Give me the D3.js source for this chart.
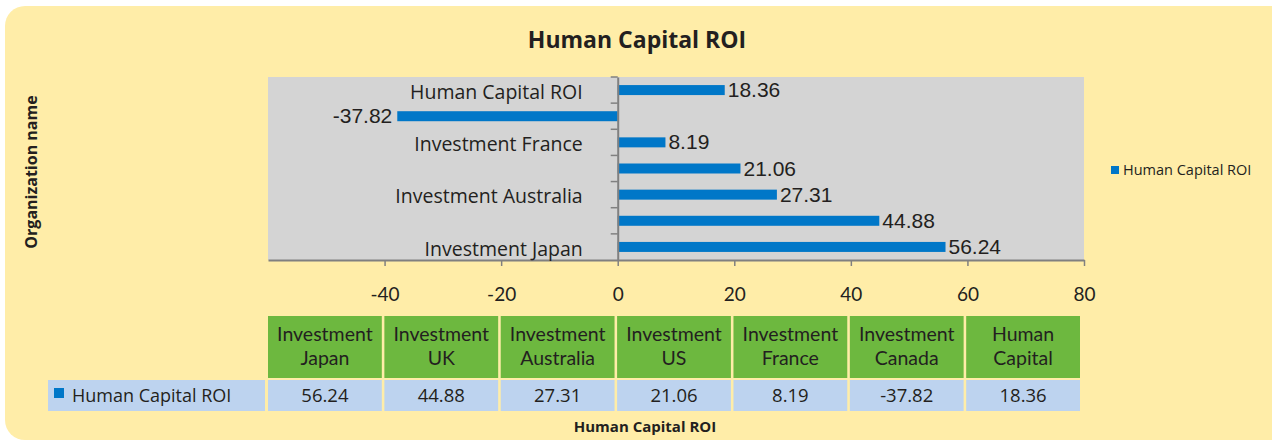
<!DOCTYPE html>
<html>
<head>
<meta charset="utf-8">
<script src="https://cdn.jsdelivr.net/npm/d3@7"></script>
<style>
  body { margin: 0; background: #fff; }
  svg text { font-family: "Open Sans", Lato, sans-serif; fill: #231f20; }
</style>
</head>
<body>
<svg id="chart" width="1272" height="443"></svg>
<script>
'use strict';

// categories, bottom of the plot to top (and table order left to right)
const categories = ['Investment Japan', 'Investment UK', 'Investment Australia', 'Investment US',
  'Investment France', 'Investment Canada', 'Human Capital ROI'];
const tableHeads = [['Investment', 'Japan'], ['Investment', 'UK'], ['Investment', 'Australia'],
  ['Investment', 'US'], ['Investment', 'France'], ['Investment', 'Canada'], ['Human', 'Capital']];
const roiValues = [56.24, 44.88, 27.31, 21.06, 8.19, -37.82, 18.36];
const shownLabels = ['Investment Japan', 'Investment Australia', 'Investment France', 'Human Capital ROI'];
const xTicks = [-40, -20, 0, 20, 40, 60, 80];
const seriesName = 'Human Capital ROI';

const svg = d3.select('#chart');

// background panel
svg.append('rect')
  .attr('x', 5).attr('y', 6).attr('width', 1290).attr('height', 434)
  .attr('rx', 20).attr('fill', '#ffeda8');

const plot = { left: 268, right: 1084, top: 77, bottom: 260 };

const x = d3.scaleLinear().domain([-60, 80]).range([plot.left, plot.right]);
const y = d3.scaleBand().domain(categories.slice().reverse()).range([plot.top, plot.bottom]);

svg.append('rect')
  .attr('x', plot.left).attr('y', plot.top)
  .attr('width', plot.right - plot.left).attr('height', plot.bottom - plot.top)
  .attr('fill', '#d4d4d4');

// title
svg.append('text')
  .attr('x', 637).attr('y', 48)
  .attr('text-anchor', 'middle')
  .style('font-weight', 'bold').style('font-size', '23px')
  .text('Human Capital ROI');

// y axis title
svg.append('text')
  .attr('transform', 'translate(37,172) rotate(-90)')
  .attr('text-anchor', 'middle')
  .style('font-weight', 'bold').style('font-size', '16px')
  .text('Organization name');

// bars
const barH = 10;
svg.append('g').selectAll('rect')
  .data(categories)
  .join('rect')
  .attr('x', (d, i) => x(Math.min(0, roiValues[i])))
  .attr('y', d => y(d) + y.bandwidth() / 2 - barH / 2)
  .attr('width', (d, i) => Math.abs(x(roiValues[i]) - x(0)))
  .attr('height', barH)
  .attr('fill', '#0077c8');

// value labels
svg.append('g').selectAll('text')
  .data(categories)
  .join('text')
  .attr('x', (d, i) => roiValues[i] >= 0 ? x(roiValues[i]) + 3 : x(roiValues[i]) - 5)
  .attr('y', d => y(d) + y.bandwidth() / 2 + 7)
  .attr('text-anchor', (d, i) => roiValues[i] >= 0 ? 'start' : 'end')
  .style('font-family', '"Liberation Sans", Arial, sans-serif')
  .style('font-size', '21px')
  .text((d, i) => roiValues[i].toFixed(2));

// x axis
const xAxis = svg.append('g')
  .attr('transform', `translate(0,${plot.bottom})`)
  .call(d3.axisBottom(x).tickValues(xTicks).tickFormat(d => String(d))
    .tickSize(6).tickSizeOuter(0).tickPadding(22));
xAxis.select('.domain').attr('stroke', '#808080').attr('stroke-width', 2);
xAxis.selectAll('.tick line').attr('stroke', '#808080').attr('stroke-width', 1.5);
xAxis.selectAll('.tick text')
  .style('font-family', 'Lato, sans-serif').style('font-size', '19px').attr('fill', '#231f20');

// y axis on zero line
const yAxis = svg.append('g')
  .attr('transform', `translate(${x(0)},0)`)
  .call(d3.axisLeft(y).tickSize(0).tickFormat(d => shownLabels.includes(d) ? d : '').tickPadding(35));
yAxis.select('.domain').attr('stroke', '#808080').attr('stroke-width', 2);
yAxis.selectAll('.tick text')
  .style('font-family', '"Open Sans", sans-serif').style('font-size', '19.5px').attr('fill', '#231f20')
  .attr('dy', '0.45em');
// ticks between bands
yAxis.append('g').selectAll('line')
  .data(categories.slice(1))
  .join('line')
  .attr('x1', -7).attr('x2', 0)
  .attr('y1', d => y(d) + y.bandwidth())
  .attr('y2', d => y(d) + y.bandwidth())
  .attr('stroke', '#808080').attr('stroke-width', 1.5);
yAxis.append('line')
  .attr('x1', -7).attr('x2', 0).attr('y1', plot.top).attr('y2', plot.top)
  .attr('stroke', '#808080').attr('stroke-width', 1.5);

// legend
const legend = svg.append('g').attr('transform', 'translate(1111,166)');
legend.append('rect').attr('width', 8).attr('height', 8).attr('fill', '#0077c8');
legend.append('text').attr('x', 12).attr('y', 9)
  .style('font-size', '14.5px').text(seriesName);

// data table
const col = d3.scaleBand().domain(categories).range([268, 1080]).paddingInner(0.022);
const table = svg.append('g');
table.selectAll('rect.head')
  .data(categories)
  .join('rect')
  .attr('class', 'head')
  .attr('x', d => col(d)).attr('y', 316)
  .attr('width', col.bandwidth()).attr('height', 62)
  .attr('fill', '#6db83f');
// header: two lines per column
categories.forEach((d, i) => {
  tableHeads[i].forEach((line, k) => {
    table.append('text')
      .attr('x', col(d) + col.bandwidth() / 2).attr('y', 341 + k * 24)
      .attr('text-anchor', 'middle')
      .style('font-family', 'Lato, sans-serif')
      .style('font-size', '19.5px')
      .text(line);
  });
});
table.selectAll('rect.val')
  .data(categories)
  .join('rect')
  .attr('class', 'val')
  .attr('x', d => col(d)).attr('y', 380)
  .attr('width', col.bandwidth()).attr('height', 31)
  .attr('fill', '#bdd3ef');
table.selectAll('text.val')
  .data(categories)
  .join('text')
  .attr('class', 'val')
  .attr('x', d => col(d) + col.bandwidth() / 2).attr('y', 402)
  .attr('text-anchor', 'middle')
  .style('font-size', '18.5px')
  .text((d, i) => roiValues[i].toFixed(2));

table.append('rect')
  .attr('x', 48).attr('y', 380).attr('width', 217).attr('height', 31)
  .attr('fill', '#bdd3ef');
table.append('rect')
  .attr('x', 54).attr('y', 388).attr('width', 10).attr('height', 10)
  .attr('fill', '#0077c8');
table.append('text')
  .attr('x', 72).attr('y', 402)
  .style('font-size', '18px')
  .text(seriesName);

// bottom axis title
svg.append('text')
  .attr('x', 645).attr('y', 432)
  .attr('text-anchor', 'middle')
  .style('font-weight', 'bold').style('font-size', '15px')
  .text(seriesName);
</script>
</body>
</html>
